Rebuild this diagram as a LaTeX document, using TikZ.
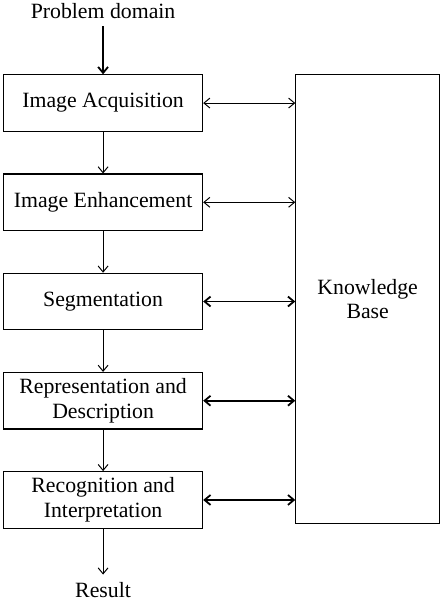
\documentclass[tikz,border=0pt]{standalone}
\usepackage{fontspec}
\setmainfont{Liberation Serif}
\usetikzlibrary{arrows.meta,positioning,calc}
\tikzset{
  stage/.style={
    rectangle,
    draw=black, line width=0.6pt,
    minimum width=100.5pt,
    minimum height=28.5pt,
    inner sep=1pt,
    align=center
  },
}

\begin{document}
\begin{tikzpicture}[->,>={Straight Barb[length=3pt,width=5pt]},line width=0.5pt,font=\fontsize{11}{12.5}\selectfont]

% processing chain
\node[stage] (ACQ) {Image Acquisition};
\node[stage, below=21pt of ACQ.south, anchor=north] (ENH) {Image Enhancement};
\node[stage, below=21pt of ENH.south, anchor=north] (SEG) {Segmentation};
\node[stage, below=21pt of SEG.south, anchor=north] (REP) {Representation and\\Description};
\node[stage, below=21pt of REP.south, anchor=north] (REC) {Recognition and\\Interpretation};

% input and output
\node[above=28pt of ACQ.north, anchor=base, inner sep=1pt] (PROB) {Problem domain};
\node[below=34.5pt of REC.south, anchor=base, inner sep=1pt] (RES) {Result};

% knowledge base spans the whole chain
\node[stage, right=46.5pt of ACQ.north east, anchor=north west, minimum width=72.5pt, minimum height=226.5pt] (KB) {Knowledge\\Base};

\useasboundingbox ($(ACQ.north west)+(-1.5pt,37.5pt)$) rectangle ($(KB.east |- REC.south)+(2.5pt,-39.5pt)$);

\draw [line width=0.9pt, shorten <=2.5pt] (PROB) -- (ACQ);
\draw (ACQ) -- (ENH);
\draw (ENH) -- (SEG);
\draw (SEG) -- (REP);
\draw (REP) -- (REC);
\draw [shorten >=2.5pt] (REC) -- (RES);

\draw [<->] (ACQ.east) -- (ACQ.east -| KB.west);
\draw [<->] (ENH.east) -- (ENH.east -| KB.west);
\draw [<->, line width=0.9pt] (SEG.east) -- (SEG.east -| KB.west);
\draw [<->, line width=0.9pt] (REP.east) -- (REP.east -| KB.west);
\draw [<->, line width=0.9pt] (REC.east) -- (REC.east -| KB.west);
\end{tikzpicture}
\end{document}
